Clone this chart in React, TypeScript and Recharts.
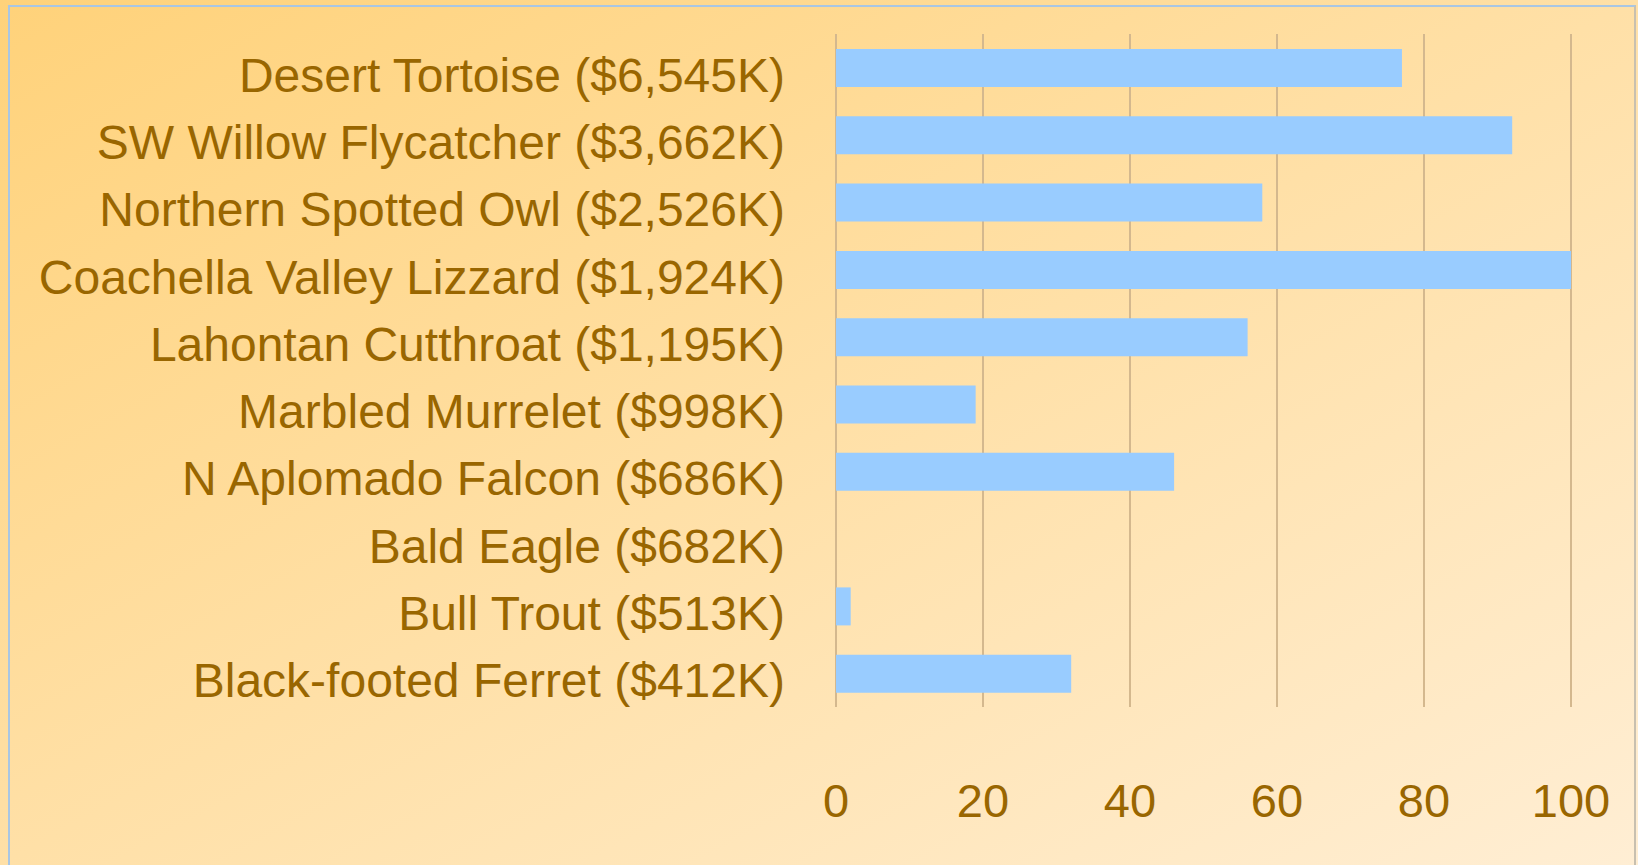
import React from 'react'
import {
  BarChart,
  Bar,
  XAxis,
  YAxis,
  CartesianGrid
} from 'recharts'

const species = [
  'Desert Tortoise ($6,545K)',
  'SW Willow Flycatcher ($3,662K)',
  'Northern Spotted Owl ($2,526K)',
  'Coachella Valley Lizzard ($1,924K)',
  'Lahontan Cutthroat ($1,195K)',
  'Marbled Murrelet ($998K)',
  'N Aplomado Falcon ($686K)',
  'Bald Eagle ($682K)',
  'Bull Trout ($513K)',
  'Black-footed Ferret ($412K)',
]

const scores = [77, 92, 58, 100, 56, 19, 46, 0, 2, 32]

const xTicks = [0, 20, 40, 60, 80, 100]

const textColor = '#996600'
const font = '"Liberation Sans", Arial, sans-serif'

const data = species.map((name, i) => ({
  name,
  value: scores[i],
}))

function CategoryTick({ x, y, payload }: any) {
  return (
    <text
      x={x}
      y={y}
      dx={-43}
      dy={24}
      textAnchor="end"
      fill={textColor}
      fontSize={48}
      fontFamily={font}
    >
      {payload.value}
    </text>
  )
}

function ValueTick({ x, y, payload }: any) {
  return (
    <text
      x={x}
      y={y}
      dy={102}
      textAnchor="middle"
      fill={textColor}
      fontSize={47}
      fontFamily={font}
    >
      {payload.value}
    </text>
  )
}

export default function App() {

  return (

    <div
      style={{
        position: 'fixed',
        left: 0,
        top: 0,
        width: 1638,
        height: 865,
        overflow: 'hidden',
        background: 'linear-gradient(to bottom right, #ffd27a, #ffeed4)',
      }}
    >

      <div
        style={{
          position: 'absolute',
          left: 8,
          top: 5,
          width: 1628,
          height: 880,
          borderLeft: '2px solid #a9c6e3',
          borderTop: '2px solid #a9c6e3',
          borderRight: '2px solid #c8c0b0',
          boxSizing: 'border-box',
        }}
      />

      <div style={{ position: 'absolute', left: 0, top: 0 }}>

        <BarChart
          width={1638}
          height={865}
          data={data}
          layout="vertical"
          barSize={38}
          margin={{ top: 34, right: 67, bottom: 0, left: 0 }}
        >

          <CartesianGrid
            horizontal={false}
            stroke="#d4b88e"
            strokeWidth={2}
          />

          <XAxis
            type="number"
            domain={[0, 100]}
            ticks={xTicks}
            height={158}
            axisLine={false}
            tickLine={false}
            tick={<ValueTick />}
          />

          <YAxis
            type="category"
            dataKey="name"
            width={836}
            axisLine={false}
            tickLine={false}
            tick={<CategoryTick />}
            interval={0}
          />

          <Bar
            dataKey="value"
            fill="#99ccff"
            isAnimationActive={false}
          />

        </BarChart>

      </div>

    </div>

  )
}
